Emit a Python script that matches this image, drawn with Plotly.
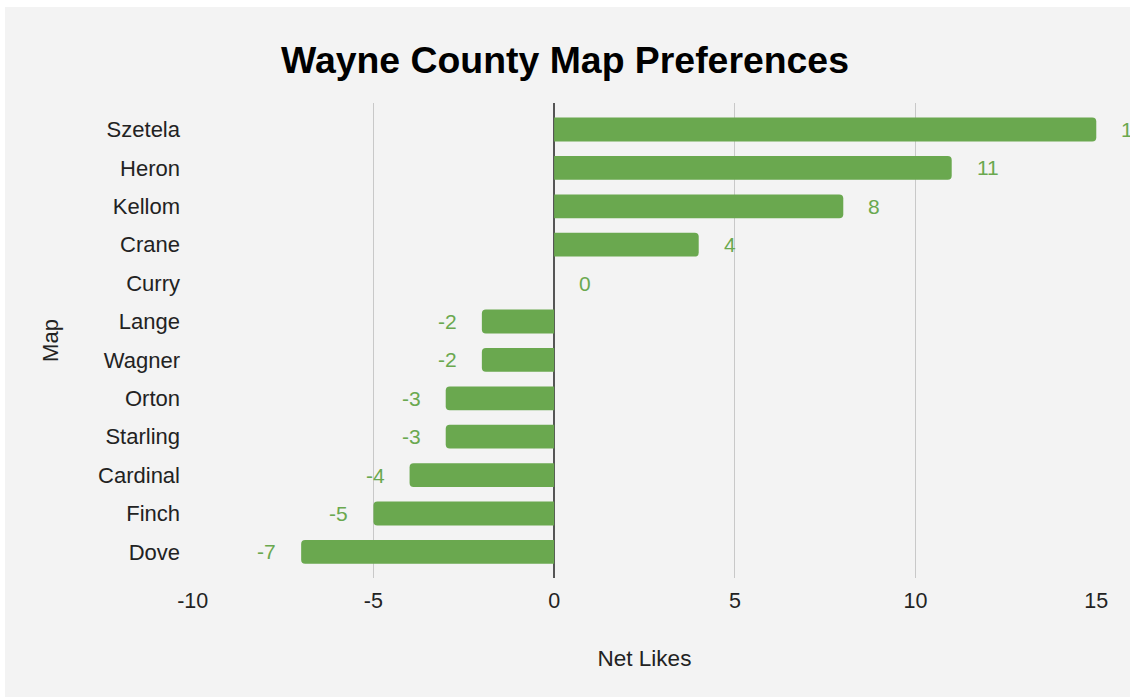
import plotly.graph_objects as go

maps = ["Szetela", "Heron", "Kellom", "Crane", "Curry", "Lange", "Wagner",
        "Orton", "Starling", "Cardinal", "Finch", "Dove"]
net_likes = [15, 11, 8, 4, 0, -2, -2, -3, -3, -4, -5, -7]
x_ticks = [-10, -5, 0, 5, 10, 15]

GREEN = "#6aa84f"
BG = "#f3f3f3"
FONT = "Liberation Sans, Arial, sans-serif"

W, H = 1130, 698
ML, MR, MT, MB = 192, 33, 103, 120
PW, PH = W - ML - MR, H - MT - MB

fig = go.Figure()
fig.add_trace(go.Bar(
    x=net_likes, y=list(range(len(maps))), orientation="h",
    marker=dict(color=GREEN, line=dict(width=0)),
    width=0.62, hoverinfo="skip",
))

annotations = []
for i, v in enumerate(net_likes):
    annotations.append(dict(
        x=v, y=i, xref="x", yref="y", text=str(v), showarrow=False,
        xanchor="right" if v < 0 else "left",
        xshift=-23 if v < 0 else 23,
        font=dict(family=FONT, size=21, color=GREEN),
    ))

def px_x(p):
    return (p - ML) / PW

def px_y(p):
    return (H - MB - p) / PH

shapes = [
    dict(type="rect", xref="paper", yref="paper", layer="above",
         x0=px_x(-5), x1=px_x(W + 5), y0=px_y(7), y1=px_y(-5),
         fillcolor="white", line=dict(width=0)),
    dict(type="rect", xref="paper", yref="paper", layer="above",
         x0=px_x(-5), x1=px_x(5), y0=px_y(H + 5), y1=px_y(-5),
         fillcolor="white", line=dict(width=0)),
    dict(type="rect", xref="paper", yref="paper", layer="above",
         x0=px_x(-5), x1=px_x(W + 5), y0=px_y(H + 5), y1=px_y(H - 1),
         fillcolor="white", line=dict(width=0)),
]

fig.update_layout(
    width=W, height=H,
    margin=dict(l=ML, r=MR, t=MT, b=MB, pad=0),
    paper_bgcolor=BG, plot_bgcolor=BG,
    barcornerradius=4,
    showlegend=False,
    title=dict(text="<b>Wayne County Map Preferences</b>", x=0.5, xref="container",
               y=1 - 60 / H, yref="container", xanchor="center", yanchor="middle",
               font=dict(family=FONT, size=37.4, color="#000000")),
    font=dict(family=FONT, color="#222222"),
    annotations=annotations,
    shapes=shapes,
)
fig.update_xaxes(
    range=[-10.02, 15.02], tickvals=x_ticks, ticktext=[str(t) for t in x_ticks],
    showgrid=True, gridcolor="#c8c8c8", gridwidth=1,
    zeroline=True, zerolinecolor="#555555", zerolinewidth=2,
    showline=False, ticks="", ticklabelstandoff=7,
    tickfont=dict(family=FONT, size=21.5, color="#222222"),
    title=dict(text="Net Likes", standoff=38,
               font=dict(family=FONT, size=22.5, color="#222222")),
)
fig.update_yaxes(
    range=[11.68, -0.69], tickvals=list(range(len(maps))), ticktext=maps,
    showgrid=False, zeroline=False, showline=False, ticks="",
    ticklabelstandoff=11,
    tickfont=dict(family=FONT, size=22, color="#222222"),
    title=dict(text="Map", standoff=33,
               font=dict(family=FONT, size=22, color="#222222")),
)

fig.write_html(
    "out.html",
    config={"displayModeBar": False},
    post_script="document.body.style.margin='0';document.body.style.overflow='hidden';",
)
